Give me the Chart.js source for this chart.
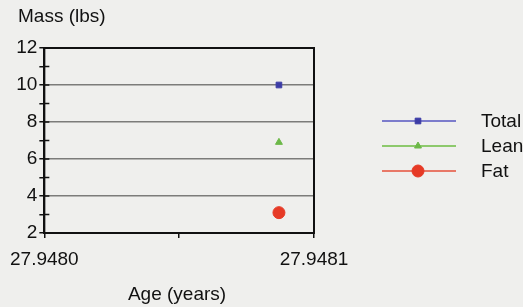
<!DOCTYPE html>
<html>
<head>
<meta charset="utf-8">
<script src="https://cdn.jsdelivr.net/npm/chart.js@4"></script>
<style>
  html, body { margin: 0; padding: 0; background: #efefed; }
  #wrap { width: 523px; height: 307px; }
</style>
</head>
<body>
<div id="wrap"><canvas id="myChart" width="523" height="307"></canvas></div>
<script>
// data
var seriesNames = ['Total', 'Lean', 'Fat'];
var ages = [27.948087];
var total = [10];
var lean = [6.9];
var fat = [3.1];
var xTicks = [27.9480, 27.94805, 27.9481];
var xLabels = ['27.9480', '', '27.9481'];
var yTicks = [2, 3, 4, 5, 6, 7, 8, 9, 10, 11, 12];

var colors = ['#3c3ca6', '#6cb848', '#e63a26'];
var lineColors = ['#5656c0', '#6cbc40', '#e6503a'];
var styles = ['rect', 'triangle', 'circle'];
var radii = [4, 4, 6];
var values = [total, lean, fat];
var fontFam = '"Liberation Sans", Arial, sans-serif';

function pts(arr) {
    return arr.map(function (v, i) { return { x: ages[i], y: v }; });
}

var datasets = seriesNames.map(function (name, i) {
    return {
        label: name,
        data: pts(values[i]),
        showLine: false,
        pointStyle: styles[i],
        pointRadius: radii[i],
        backgroundColor: colors[i],
        borderColor: colors[i],
        borderWidth: 1
    };
});

var extras = {
    id: 'extras',
    afterDraw: function (chart) {
        var c = chart.ctx, a = chart.chartArea, y = chart.scales.y;
        c.save();
        // frame
        c.strokeStyle = '#111';
        c.lineWidth = 2;
        c.strokeRect(a.left, a.top, a.right - a.left, a.bottom - a.top);
        // minor ticks poke inside the frame too
        c.lineWidth = 1.5;
        yTicks.forEach(function (v) {
            var py = y.getPixelForValue(v);
            c.beginPath();
            c.moveTo(a.left, py);
            c.lineTo(a.left + 5, py);
            c.stroke();
        });
        // axis titles
        c.fillStyle = '#111';
        c.font = '19px ' + fontFam;
        c.textBaseline = 'middle';
        c.textAlign = 'left';
        c.fillText('Mass (lbs)', 18, 17);
        c.textAlign = 'center';
        c.fillText('Age (years)', 177, 295);
        // legend: line with marker
        seriesNames.forEach(function (name, i) {
            var ly = 121 + i * 25;
            c.strokeStyle = lineColors[i];
            c.lineWidth = 1.5;
            c.beginPath();
            c.moveTo(382, ly);
            c.lineTo(456, ly);
            c.stroke();
            c.fillStyle = colors[i];
            c.strokeStyle = colors[i];
            c.lineWidth = 1;
            Chart.helpers.drawPoint(c, { pointStyle: styles[i], radius: radii[i], rotation: 0, borderWidth: 1 }, 418, ly);
            c.fillStyle = '#111';
            c.textAlign = 'left';
            c.font = '19px ' + fontFam;
            c.fillText(name, 481, ly + 1);
        });
        c.restore();
    }
};

var ctx = document.getElementById('myChart').getContext('2d');
var chart = new Chart(ctx, {
    type: 'scatter',
    data: { datasets: datasets },
    options: {
        responsive: false,
        animation: false,
        layout: { padding: { top: 48, right: 209, left: 0, bottom: 0 } },
        plugins: { legend: { display: false }, tooltip: { enabled: false } },
        scales: {
            x: {
                type: 'linear',
                min: xTicks[0],
                max: xTicks[xTicks.length - 1],
                afterBuildTicks: function (scale) {
                    scale.ticks = xTicks.map(function (v) { return { value: v }; });
                },
                afterFit: function (scale) { scale.height = 74; },
                grid: { drawOnChartArea: false, tickLength: 5, color: '#111', lineWidth: 1.5 },
                border: { color: '#111', width: 2 },
                ticks: {
                    maxRotation: 0,
                    autoSkip: false,
                    padding: 10,
                    color: '#111',
                    font: { family: fontFam, size: 19 },
                    callback: function (v, i) { return xLabels[i]; }
                }
            },
            y: {
                min: yTicks[0],
                max: yTicks[yTicks.length - 1],
                afterBuildTicks: function (scale) {
                    scale.ticks = yTicks.map(function (v) { return { value: v }; });
                },
                afterFit: function (scale) { scale.width = 40; },
                grid: {
                    tickLength: 5,
                    color: function (c) { return (c.tick && c.tick.value % 2 === 0) ? '#7c7c7a' : 'rgba(0,0,0,0)'; },
                    tickColor: '#111',
                    lineWidth: 1.5
                },
                border: { color: '#111', width: 2 },
                ticks: {
                    autoSkip: false,
                    padding: 2,
                    color: '#111',
                    font: { family: fontFam, size: 19 },
                    callback: function (v) { return v % 2 === 0 ? v : ''; }
                }
            }
        }
    },
    plugins: [extras]
});
</script>
</body>
</html>
